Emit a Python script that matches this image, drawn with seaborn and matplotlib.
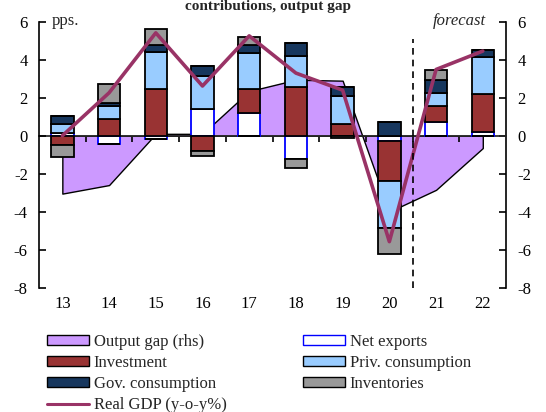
import numpy as np
import seaborn as sns
import matplotlib.pyplot as plt
from matplotlib.patches import Patch
from matplotlib.lines import Line2D

# data
years = ['13', '14', '15', '16', '17', '18', '19', '20', '21', '22']
net_exports = [0.15, -0.44, -0.16, 1.40, 1.18, -1.23, -0.02, -0.26, 0.70, 0.18]
investment = [-0.50, 0.88, 2.44, -0.79, 1.26, 2.55, 0.62, -2.12, 0.86, 2.02]
priv_cons = [0.45, 0.68, 1.95, 1.74, 1.93, 1.65, 1.47, -2.46, 0.70, 1.93]
gov_cons = [0.45, 0.17, 0.38, 0.54, 0.40, 0.71, 0.46, 0.70, 0.67, 0.38]
inventories = [-0.62, 0.98, 0.84, -0.26, 0.41, -0.45, -0.12, -1.38, 0.51, 0.0]
real_gdp = [0.0, 2.26, 5.42, 2.62, 5.26, 3.30, 2.40, -5.58, 3.49, 4.46]
output_gap = [-3.05, -2.60, 0.10, 0.10, 2.35, 2.95, 2.90, -4.00, -2.85, -0.65]

sns.set_theme(style='white')
plt.rcParams['font.family'] = ['Liberation Serif', 'DejaVu Serif']
plt.rcParams['font.size'] = 12
plt.rcParams['axes.unicode_minus'] = False

fig = plt.figure(figsize=(5.46, 4.12), dpi=100)
ax = fig.add_axes([0.0714, 0.302, 0.8556, 0.645])
ax2 = ax.twinx()
ax.set_zorder(ax2.get_zorder() + 1)
ax.patch.set_visible(False)

x = np.arange(len(years))

# output gap area on the right axis
ax2.fill_between(x, output_gap, 0, facecolor='#CC99FF', edgecolor='black', linewidth=1)

# stacked bars, positives up and negatives down
series = [
    (net_exports, 'white', '#0000FF'),
    (investment, '#993333', 'black'),
    (priv_cons, '#99CCFF', 'black'),
    (gov_cons, '#17375E', 'black'),
    (inventories, '#999999', 'black'),
]
pos_base = np.zeros(len(years))
neg_base = np.zeros(len(years))
for vals, fc, ec in series:
    vals = np.array(vals)
    pos = np.where(vals > 0, vals, 0)
    neg = np.where(vals < 0, vals, 0)
    ax.bar(x, pos, 0.48, bottom=pos_base, color=fc, edgecolor=ec, linewidth=1.3)
    ax.bar(x, neg, 0.48, bottom=neg_base, color=fc, edgecolor=ec, linewidth=1.3)
    pos_base += pos
    neg_base += neg

sns.lineplot(x=x, y=real_gdp, ax=ax, color='#993366', linewidth=2.6, legend=False)

for a in (ax, ax2):
    a.set_ylim(-8, 6)
    a.set_xlim(-0.5, len(years) - 0.5)
    a.set_yticks(range(-8, 7, 2))
    a.tick_params(axis='y', direction='in', length=5, width=1.2, colors='black',
                  labelsize=12, pad=8)
    for s in a.spines.values():
        s.set_visible(False)
ax.spines['left'].set_visible(True)
ax2.spines['right'].set_visible(True)
ax.spines['left'].set_color('black')
ax2.spines['right'].set_color('black')
ax.spines['left'].set_linewidth(1.2)
ax2.spines['right'].set_linewidth(1.2)

ax.set_xticks(x, years)
ax.tick_params(axis='x', length=0, labelsize=12, pad=6, colors='black')

# zero line with category dividers
zero = ax.secondary_xaxis(8 / 14)
dividers = np.arange(0.5, len(years) - 1, 1)
zero.set_xticks(dividers, [''] * len(dividers))
zero.tick_params(axis='x', direction='in', length=4, width=1.2, colors='black')
zero.spines['bottom'].set_linewidth(1.5)
zero.spines['bottom'].set_color('black')

ax.vlines(7.5, -8, 5.1, colors='black', linestyles=(0, (4, 3)), linewidth=1.2)

ax.text(0.028, 1.005, 'pps.', transform=ax.transAxes, va='center', ha='left', fontsize=12)
ax.text(0.90, 1.005, 'forecast', transform=ax.transAxes, va='center', ha='center',
        fontsize=12, style='italic')
fig.text(0.49, 1 - 10 / 412, 'contributions, output gap', ha='center', va='baseline',
         fontsize=11, fontweight='bold')

handles = [
    Patch(facecolor='#CC99FF', edgecolor='black', linewidth=1),
    Patch(facecolor='#993333', edgecolor='black', linewidth=1),
    Patch(facecolor='#17375E', edgecolor='black', linewidth=1),
    Line2D([], [], color='#993366', linewidth=2.2),
    Patch(facecolor='white', edgecolor='#0000FF', linewidth=1),
    Patch(facecolor='#99CCFF', edgecolor='black', linewidth=1),
    Patch(facecolor='#999999', edgecolor='black', linewidth=1),
]
labels = ['Output gap (rhs)', 'Investment', 'Gov. consumption', 'Real GDP (y-o-y%)',
          'Net exports', 'Priv. consumption', 'Inventories']
fig.legend(handles, labels, ncol=2, loc='upper left', bbox_to_anchor=(0.086, 0.19),
           frameon=False, fontsize=12, handlelength=2.5, handleheight=0.55,
           handletextpad=0.3, labelspacing=0.31, columnspacing=4.6, borderpad=0,
           borderaxespad=0)

fig.savefig('out.png', dpi=100)
